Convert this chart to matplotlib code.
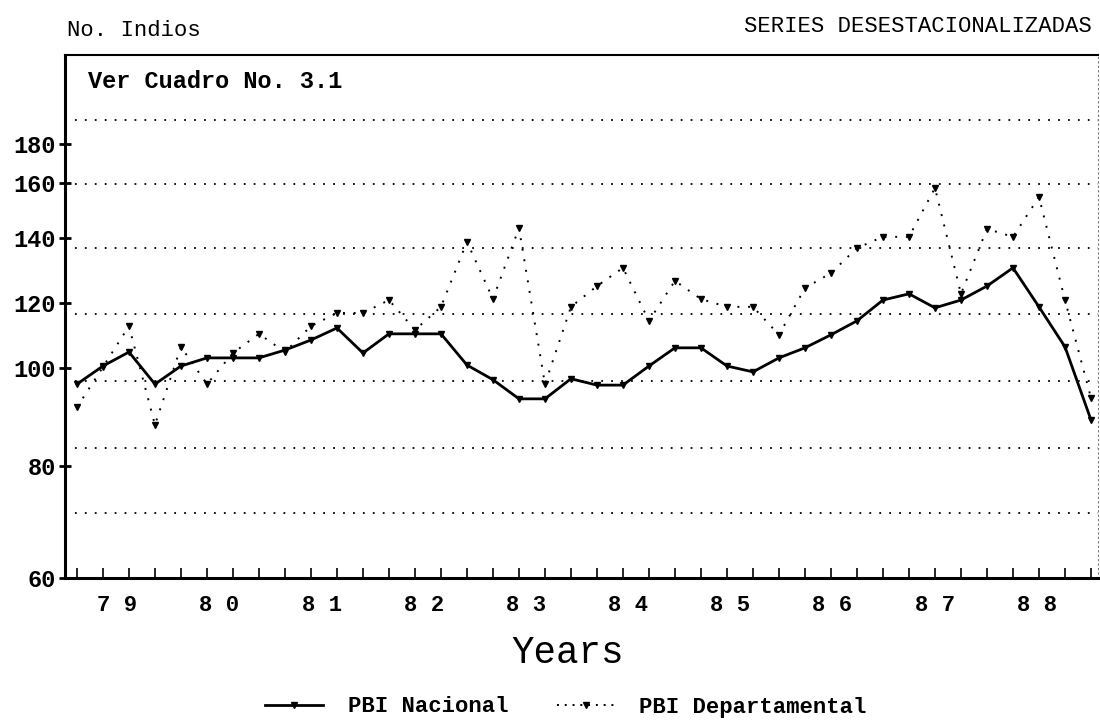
import numpy as np
import matplotlib
matplotlib.use("Agg")
import matplotlib.pyplot as plt
from matplotlib.lines import Line2D

# ---------------- data (quarterly, 1979Q1 .. 1988Q4) ----------------
quarters = list(range(40))
year_labels = ["7 9", "8 0", "8 1", "8 2", "8 3", "8 4", "8 5", "8 6", "8 7", "8 8"]
pbi_nacional = [96.7, 100.6, 104.9, 96.7, 100.6, 103.1, 103.1, 103.1, 105.5, 108.6,
                112.3, 104.6, 110.5, 110.5, 110.5, 100.9, 97.6, 93.7, 93.7, 97.8,
                96.5, 96.5, 100.6, 106.2, 106.2, 100.6, 99.2, 103.1, 106.2, 110.2,
                114.5, 120.9, 122.8, 118.5, 120.9, 125.2, 130.8, 118.8, 106.5, 89.4]
pbi_departamental = [92.0, 100.3, 112.9, 88.4, 106.5, 96.7, 104.6, 110.5, 104.9, 112.9,
                     116.9, 116.9, 120.9, 111.7, 118.8, 138.8, 121.2, 143.6, 96.7, 118.8,
                     125.2, 130.8, 114.5, 126.8, 121.2, 118.8, 118.8, 110.2, 124.6, 129.2,
                     136.9, 140.4, 140.4, 158.2, 122.8, 143.3, 140.4, 154.9, 120.9, 93.9]
y_ticks = [60, 80, 100, 120, 140, 160, 180]
grid_levels = [71.6, 83.7, 97.3, 116.6, 136.9, 159.6, 192.3]

# non-uniform vertical axis of the original chart
SCALE_VALS = [60, 80, 100, 120, 140, 160, 180, 240]
SCALE_POS = [0, 112, 210, 275, 340, 395, 434, 551]


def fwd(v):
    return np.interp(v, SCALE_VALS, SCALE_POS)


def inv(p):
    return np.interp(p, SCALE_POS, SCALE_VALS)


MONO = ["Liberation Mono", "DejaVu Sans Mono"]
plt.rcParams["font.family"] = MONO

fig = plt.figure(figsize=(11, 7.23), dpi=100)
ax = fig.add_axes([65 / 1100, (723 - 578) / 723, (1098 - 65) / 1100, (578 - 55) / 723])
ax.set_yscale("function", functions=(fwd, inv))
ax.set_ylim(60, 225.6)
ax.set_xlim(-0.46, 39.27)

for g in grid_levels:
    ax.axhline(g, color="black", lw=1.3, ls=(0, (1, 4.5)), zorder=1)

ax.plot(quarters, pbi_nacional, color="black", lw=2, marker="v", ms=4, zorder=3)
ax.plot(quarters, pbi_departamental, color="black", lw=1.4, ls=(0, (1, 4.5)),
        marker="v", ms=4.5, zorder=3)

# spines
for s in ["left", "bottom"]:
    ax.spines[s].set_linewidth(2.2)
ax.spines["top"].set_linewidth(1.5)
ax.spines["right"].set_linewidth(0.8)
ax.spines["right"].set_linestyle((0, (1, 3)))
ax.spines["right"].set_color("#777777")

# y ticks
ax.set_yticks(y_ticks)
ax.set_yticklabels([str(t) for t in y_ticks], fontweight="bold", fontsize=17)
ax.yaxis.set_minor_locator(matplotlib.ticker.NullLocator())
ax.tick_params(axis="y", which="major", direction="inout", length=9, width=2, pad=2)

# x ticks: quarter marks inside, year labels
ax.set_xticks(quarters, minor=True)
ax.set_xticks([1.55 + 3.93 * k for k in range(len(year_labels))])
ax.set_xticklabels(year_labels, fontsize=16, fontweight="bold")
ax.tick_params(axis="x", which="major", length=0, pad=12)
ax.tick_params(axis="x", which="minor", direction="in", length=7, width=1.2)

fig.text(88 / 1100, 1 - 82 / 723, "Ver Cuadro No. 3.1",
         fontsize=17, fontweight="bold", va="center", ha="left")
fig.text(67 / 1100, 1 - 31 / 723, "No. Indios", fontsize=16, va="center", ha="left")
fig.text(1092 / 1100, 1 - 27 / 723, "SERIES DESESTACIONALIZADAS", fontsize=16,
         va="center", ha="right")
fig.text(568 / 1100, 1 - 653 / 723, "Years", fontsize=27, va="center", ha="center")

handles = [
    Line2D([0, 1, 2], [0, 0, 0], color="black", lw=2, marker="v", ms=4, markevery=[1],
           label="PBI Nacional"),
    Line2D([0, 1, 2], [0, 0, 0], color="black", lw=1.4, ls=(0, (1, 3)), marker="v", ms=4.5,
           markevery=[1], label="PBI Departamental"),
]
fig.legend(handles=handles, loc="center", bbox_to_anchor=(566 / 1100, 1 - 707 / 723),
           ncol=2, frameon=False, handlelength=2.6, handletextpad=1.1,
           columnspacing=2.2, prop={"family": MONO, "weight": "bold", "size": 16})

fig.savefig("out.png", dpi=100)
